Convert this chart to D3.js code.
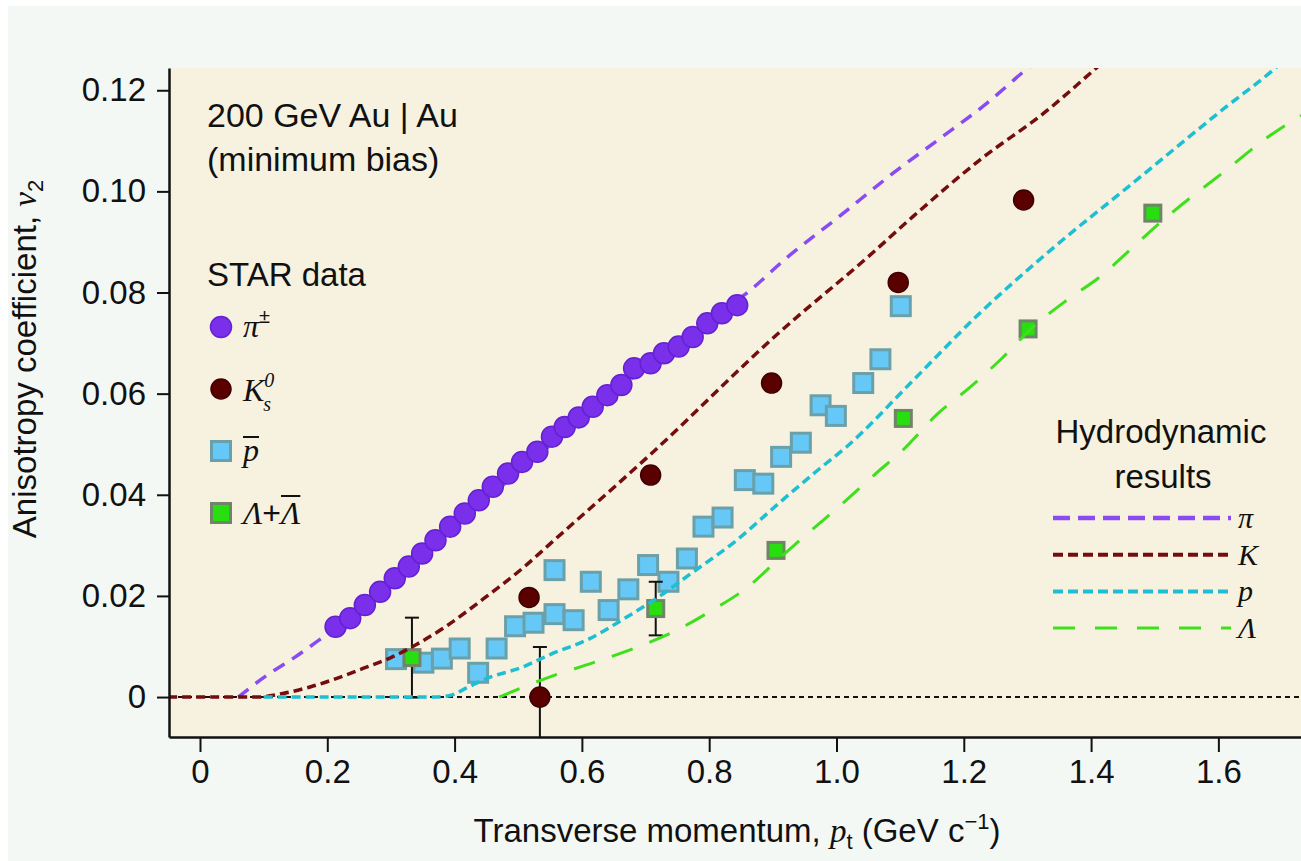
<!DOCTYPE html>
<html>
<head>
<meta charset="utf-8">
<script src="https://cdn.jsdelivr.net/npm/d3@7"></script>
<style>
  html, body { margin: 0; padding: 0; background: #ffffff; }
  svg { display: block; }
  text { font-family: "Liberation Sans", Arial, sans-serif; fill: #111; }
  .math { font-family: "Liberation Serif", "Times New Roman", serif; font-style: italic; }
</style>
</head>
<body>
<svg id="chart" width="1301" height="861"></svg>
<script>
// ---- STAR measurements: v2 versus transverse momentum ----
const pionPt = [0.213, 0.236, 0.259, 0.283, 0.306, 0.328, 0.349, 0.370, 0.393, 0.416,
                0.438, 0.460, 0.484, 0.506, 0.530, 0.553, 0.573, 0.595, 0.617, 0.640,
                0.662, 0.682, 0.708, 0.729, 0.752, 0.774, 0.797, 0.820, 0.844];
const pionV2 = [0.0139, 0.0156, 0.0182, 0.0208, 0.0235, 0.0258, 0.0284, 0.0310, 0.0337, 0.0363,
                0.0389, 0.0416, 0.0442, 0.0465, 0.0485, 0.0515, 0.0534, 0.0553, 0.0574, 0.0597,
                0.0617, 0.0650, 0.0660, 0.0680, 0.0693, 0.0712, 0.0739, 0.0759, 0.0775];

const kaonPt  = [0.517, 0.534, 0.708, 0.898, 1.097, 1.294];
const kaonV2  = [0.0197, 0.0000, 0.0439, 0.0621, 0.0820, 0.0983];
const kaonErr = [0, 0.0099, 0, 0, 0, 0];

const pbarPt = [0.308, 0.351, 0.380, 0.408, 0.437, 0.466, 0.495, 0.524, 0.557, 0.557,
                0.587, 0.614, 0.642, 0.673, 0.704, 0.736, 0.765, 0.791, 0.821, 0.856,
                0.885, 0.913, 0.944, 0.975, 0.999, 1.042, 1.069, 1.101];
const pbarV2 = [0.0075, 0.0068, 0.0076, 0.0096, 0.0048, 0.0096, 0.0140, 0.0147, 0.0164, 0.0251,
                0.0152, 0.0228, 0.0172, 0.0213, 0.0261, 0.0228, 0.0274, 0.0337, 0.0355, 0.0429,
                0.0422, 0.0475, 0.0503, 0.0577, 0.0556, 0.0621, 0.0668, 0.0773];

const lambdaPt  = [0.333, 0.716, 0.905, 1.105, 1.301, 1.497];
const lambdaV2  = [0.0078, 0.0175, 0.0290, 0.0551, 0.0728, 0.0957];
const lambdaErr = [0.0079, 0.0053, 0, 0, 0, 0];

// ---- hydrodynamic model curves ----
const hydroPionPt = [0.06, 0.105, 0.147, 0.183, 0.25, 0.30, 0.40, 0.50, 0.60, 0.70, 0.80,
                     0.86, 0.923, 1.00, 1.092, 1.162, 1.232, 1.30, 1.36];
const hydroPionV2 = [0.0, 0.0043, 0.0077, 0.0109, 0.0170, 0.0225, 0.0335, 0.0445, 0.0550, 0.0652, 0.0748,
                     0.0800, 0.0870, 0.0946, 0.1039, 0.1104, 0.1170, 0.1243, 0.1300];

const hydroKaonPt = [-0.05, 0.09, 0.13, 0.173, 0.215, 0.257, 0.30, 0.34, 0.382, 0.445, 0.508,
                     0.55, 0.602, 0.655, 0.707, 0.911, 1.05, 1.12, 1.225, 1.331, 1.401, 1.45];
const hydroKaonV2 = [0.0, 0.0, 0.0007, 0.0020, 0.0037, 0.0057, 0.0078, 0.0104, 0.0136, 0.0194, 0.0256,
                     0.0303, 0.0361, 0.0420, 0.0479, 0.0722, 0.0871, 0.0950, 0.1062, 0.1160, 0.1236, 0.1290];

const hydroProtonPt = [0.10, 0.37, 0.393, 0.419, 0.445, 0.508, 0.55, 0.613, 0.665, 0.717, 0.770,
                       0.843, 0.911, 0.969, 1.016, 1.121, 1.225, 1.330, 1.471, 1.612, 1.686, 1.73];
const hydroProtonV2 = [0.0, 0.0, 0.0003, 0.0018, 0.0034, 0.0060, 0.0084, 0.0116, 0.0154, 0.0195, 0.0243,
                       0.0310, 0.0385, 0.0447, 0.0495, 0.0627, 0.0759, 0.0877, 0.1022, 0.1167, 0.1240, 0.1290];

const hydroLambdaPt = [0.47, 0.55, 0.618, 0.681, 0.744, 0.801, 0.859, 0.911, 0.958, 1.008, 1.06,
                       1.108, 1.157, 1.21, 1.26, 1.309, 1.362, 1.414, 1.461, 1.513, 1.612, 1.675, 1.73];
const hydroLambdaV2 = [0.0, 0.0040, 0.0068, 0.0096, 0.0129, 0.0169, 0.0216, 0.0275, 0.0327, 0.0381, 0.0440,
                       0.0493, 0.0558, 0.0613, 0.0670, 0.0732, 0.0785, 0.0831, 0.0884, 0.0943, 0.1042, 0.1105, 0.1150];

// ---- axis ticks ----
const xTicks = [0, 0.2, 0.4, 0.6, 0.8, 1.0, 1.2, 1.4, 1.6];
const xTickLabels = ["0", "0.2", "0.4", "0.6", "0.8", "1.0", "1.2", "1.4", "1.6"];
const yTicks = [0, 0.02, 0.04, 0.06, 0.08, 0.10, 0.12];
const yTickLabels = ["0", "0.02", "0.04", "0.06", "0.08", "0.10", "0.12"];

// ---- colours ----
const C = {
  pion: "#7a30ea", pionEdge: "#6420d2", pionLine: "#8a4cf2",
  kaon: "#5a0000", kaonEdge: "#3e0000", kaonLine: "#740d0d",
  pbar: "#66c8f6", pbarEdge: "#6aa0a9", protonLine: "#1ebfd3",
  lambda: "#27df0e", lambdaEdge: "#6f8468", lambdaLine: "#3ee01c"
};

// ---- layout ----
const W = 1301, H = 861;
const plot = { left: 169, top: 68, right: 1301, bottom: 737 };

const svg = d3.select("#chart");

// page and panel backgrounds
svg.append("rect").attr("x", 8).attr("y", 6).attr("width", W - 8).attr("height", H - 6)
  .attr("fill", "#f4f8f5");
svg.append("rect").attr("x", plot.left).attr("y", plot.top)
  .attr("width", plot.right - plot.left).attr("height", plot.bottom - plot.top)
  .attr("fill", "#f7f2e0");

const x = d3.scaleLinear().domain([-0.0487, 1.7298]).range([plot.left, plot.right]);
const y = d3.scaleLinear().domain([-0.0079, 0.1244]).range([plot.bottom, plot.top]);

svg.append("clipPath").attr("id", "clip").append("rect")
  .attr("x", plot.left).attr("y", plot.top)
  .attr("width", plot.right - plot.left).attr("height", plot.bottom - plot.top);

const g = svg.append("g").attr("clip-path", "url(#clip)");

const zip = (a, b) => a.map((d, i) => [d, b[i]]);
const line = d3.line().x(d => x(d[0])).y(d => y(d[1])).curve(d3.curveMonotoneX);

// zero reference line
g.append("line")
  .attr("x1", plot.left).attr("x2", plot.right)
  .attr("y1", y(0)).attr("y2", y(0))
  .attr("stroke", "#111").attr("stroke-width", 2).attr("stroke-dasharray", "5,4");

// pion model curve sits underneath the pion points
g.append("path").datum(zip(hydroPionPt, hydroPionV2))
  .attr("d", line).attr("fill", "none")
  .attr("stroke", C.pionLine).attr("stroke-width", 3.5).attr("stroke-dasharray", "13,9");

// pions
g.selectAll("circle.pion").data(zip(pionPt, pionV2)).join("circle")
  .attr("class", "pion")
  .attr("cx", d => x(d[0])).attr("cy", d => y(d[1])).attr("r", 10.5)
  .attr("fill", C.pion).attr("stroke", C.pionEdge).attr("stroke-width", 1.5);

// anti-protons
const pbarSide = 19;
g.selectAll("rect.pbar").data(zip(pbarPt, pbarV2)).join("rect")
  .attr("class", "pbar")
  .attr("x", d => x(d[0]) - pbarSide / 2).attr("y", d => y(d[1]) - pbarSide / 2)
  .attr("width", pbarSide).attr("height", pbarSide)
  .attr("fill", C.pbar).attr("stroke", C.pbarEdge).attr("stroke-width", 3);

// error bars
function errorBars(pts, vals, errs) {
  const rows = pts.map((p, i) => ({ p, v: vals[i], e: errs[i] })).filter(d => d.e > 0);
  const eg = g.append("g").attr("stroke", "#111").attr("stroke-width", 2);
  rows.forEach(d => {
    const cx = x(d.p);
    eg.append("line").attr("x1", cx).attr("x2", cx).attr("y1", y(d.v - d.e)).attr("y2", y(d.v + d.e));
    [d.v - d.e, d.v + d.e].forEach(v => {
      eg.append("line").attr("x1", cx - 7).attr("x2", cx + 7).attr("y1", y(v)).attr("y2", y(v));
    });
  });
}
errorBars(kaonPt, kaonV2, kaonErr);
errorBars(lambdaPt, lambdaV2, lambdaErr);

// kaons
g.selectAll("circle.kaon").data(zip(kaonPt, kaonV2)).join("circle")
  .attr("class", "kaon")
  .attr("cx", d => x(d[0])).attr("cy", d => y(d[1])).attr("r", 10)
  .attr("fill", C.kaon).attr("stroke", C.kaonEdge).attr("stroke-width", 1.5);

// lambdas
const lamSide = 16;
g.selectAll("rect.lambda").data(zip(lambdaPt, lambdaV2)).join("rect")
  .attr("class", "lambda")
  .attr("x", d => x(d[0]) - lamSide / 2).attr("y", d => y(d[1]) - lamSide / 2)
  .attr("width", lamSide).attr("height", lamSide)
  .attr("fill", C.lambda).attr("stroke", C.lambdaEdge).attr("stroke-width", 3);

// remaining model curves on top
const curveStyles = [
  { pt: hydroKaonPt, v: hydroKaonV2, color: C.kaonLine, dash: "9,5", w: 3.5 },
  { pt: hydroProtonPt, v: hydroProtonV2, color: C.protonLine, dash: "9,5", w: 3.5 },
  { pt: hydroLambdaPt, v: hydroLambdaV2, color: C.lambdaLine, dash: "22,18", w: 3 }
];
curveStyles.forEach(c => {
  g.append("path").datum(zip(c.pt, c.v)).attr("d", line).attr("fill", "none")
    .attr("stroke", c.color).attr("stroke-width", c.w).attr("stroke-dasharray", c.dash);
});

// ---- axes ----
const yAxis = d3.axisLeft(y).tickValues(yTicks)
  .tickFormat((d, i) => yTickLabels[i]).tickSize(12).tickPadding(11).tickSizeOuter(0);
const xAxis = d3.axisBottom(x).tickValues(xTicks)
  .tickFormat((d, i) => xTickLabels[i]).tickSize(15).tickPadding(8).tickSizeOuter(0);

const ya = svg.append("g").attr("transform", `translate(${plot.left},0)`).call(yAxis);
const xa = svg.append("g").attr("transform", `translate(0,${plot.bottom})`).call(xAxis);
[ya, xa].forEach(a => {
  a.select(".domain").attr("stroke", "#111").attr("stroke-width", 2.5);
  a.selectAll(".tick line").attr("stroke", "#111").attr("stroke-width", 2);
  a.selectAll(".tick text").attr("font-size", 33)
    .attr("font-family", "Liberation Sans, Arial, sans-serif").attr("fill", "#111");
});

// axis titles
const xt = svg.append("text").attr("x", 737).attr("y", 842)
  .attr("text-anchor", "middle").attr("font-size", 33);
xt.append("tspan").text("Transverse momentum, ");
xt.append("tspan").attr("class", "math").text("p");
xt.append("tspan").attr("font-size", 22).attr("dy", 7).text("t");
xt.append("tspan").attr("dy", -7).text(" (GeV c");
xt.append("tspan").attr("font-size", 22).attr("dy", -13).text("\u22121");
xt.append("tspan").attr("dy", 13).text(")");

const yt = svg.append("text").attr("transform", "translate(36,359) rotate(-90)")
  .attr("text-anchor", "middle").attr("font-size", 33);
yt.append("tspan").text("Anisotropy coefficient, ");
yt.append("tspan").attr("class", "math").text("v");
yt.append("tspan").attr("font-size", 22).attr("dy", 7).text("2");

// ---- annotations ----
svg.append("text").attr("x", 207).attr("y", 127).attr("font-size", 34).text("200 GeV Au | Au");
svg.append("text").attr("x", 207).attr("y", 171).attr("font-size", 34).text("(minimum bias)");
svg.append("text").attr("x", 207).attr("y", 286).attr("font-size", 33).text("STAR data");

// ---- data legend ----
const legX = 221, legY0 = 327, legStep = 62;
const legendMarkers = ["pion", "kaon", "pbar", "lambda"];
legendMarkers.forEach((k, i) => {
  const cy = legY0 + i * legStep;
  if (k === "pion" || k === "kaon") {
    svg.append("circle").attr("cx", legX).attr("cy", cy).attr("r", k === "pion" ? 10.5 : 10)
      .attr("fill", C[k]).attr("stroke", C[k + "Edge"]).attr("stroke-width", 1.5);
  } else {
    const s = pbarSide;
    svg.append("rect").attr("x", legX - s / 2).attr("y", cy - s / 2).attr("width", s).attr("height", s)
      .attr("fill", C[k]).attr("stroke", C[k + "Edge"]).attr("stroke-width", 3);
  }
});
const lx = 243;
// π±
const t1 = svg.append("text").attr("x", lx).attr("y", legY0 + 10).attr("font-size", 32);
t1.append("tspan").attr("class", "math").text("\u03c0");
t1.append("tspan").attr("font-size", 20).attr("dy", -14).text("\u00b1");
// K0s
const t2 = svg.append("text").attr("x", lx).attr("y", legY0 + legStep + 12).attr("font-size", 32).attr("class", "math");
t2.append("tspan").text("K");
t2.append("tspan").attr("font-size", 20).attr("dy", -14).text("0");
t2.append("tspan").attr("font-size", 20).attr("dx", -11).attr("dy", 24).text("s");
// p-bar
const t3y = legY0 + 2 * legStep + 10;
const t3 = svg.append("text").attr("x", lx).attr("y", t3y).attr("font-size", 32).attr("class", "math").text("p");
const b3 = t3.node().getBBox();
svg.append("line").attr("x1", b3.x + 2).attr("x2", b3.x + b3.width).attr("y1", t3y - 24).attr("y2", t3y - 24)
  .attr("stroke", "#111").attr("stroke-width", 2);
// Λ + Λ-bar
const t4y = legY0 + 3 * legStep + 11;
const t4 = svg.append("text").attr("x", lx).attr("y", t4y).attr("font-size", 32);
t4.append("tspan").attr("class", "math").text("\u039b");
t4.append("tspan").text("+");
const lam2 = t4.append("tspan").attr("class", "math").text("\u039b");
const l2 = lam2.node().getStartPositionOfChar(0).x;
const l2w = lam2.node().getComputedTextLength();
svg.append("line").attr("x1", l2).attr("x2", l2 + l2w).attr("y1", t4y - 28).attr("y2", t4y - 28)
  .attr("stroke", "#111").attr("stroke-width", 2);

// ---- model legend ----
svg.append("text").attr("x", 1161).attr("y", 443).attr("text-anchor", "middle").attr("font-size", 33).text("Hydrodynamic");
svg.append("text").attr("x", 1163).attr("y", 488).attr("text-anchor", "middle").attr("font-size", 33).text("results");
const modelLegend = [
  { label: "\u03c0", color: C.pionLine, dash: "17,8", w: 4.5 },
  { label: "K", color: C.kaonLine, dash: "10,5", w: 4 },
  { label: "p", color: C.protonLine, dash: "10,5", w: 4 },
  { label: "\u039b", color: C.lambdaLine, dash: "22,20", w: 3 }
];
modelLegend.forEach((m, i) => {
  const ly = 518 + i * 36.7;
  svg.append("line").attr("x1", 1053).attr("x2", 1231).attr("y1", ly).attr("y2", ly)
    .attr("stroke", m.color).attr("stroke-width", m.w).attr("stroke-dasharray", m.dash);
  svg.append("text").attr("x", 1238).attr("y", ly + 10).attr("font-size", 30).attr("class", "math").text(m.label);
});
</script>
</body>
</html>
